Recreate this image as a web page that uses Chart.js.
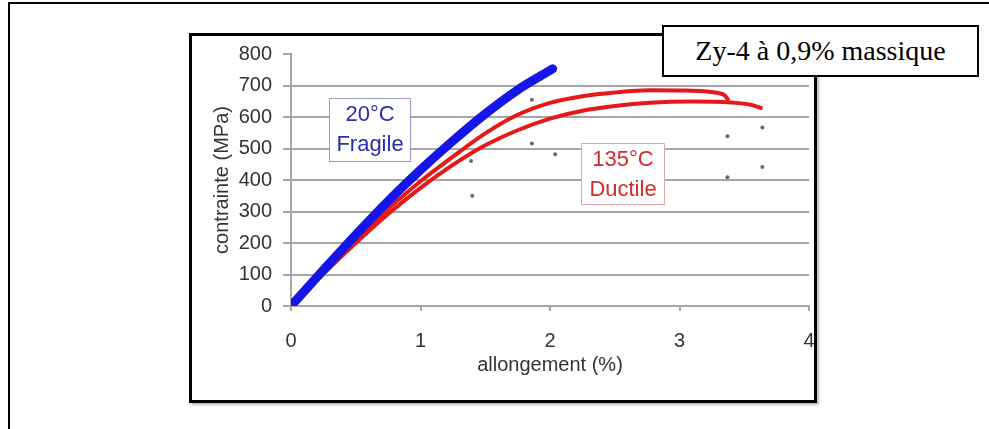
<!DOCTYPE html>
<html>
<head>
<meta charset="utf-8">
<script src="https://cdn.jsdelivr.net/npm/chart.js@4"></script>
<style>
  body { margin: 0; background: #fff; }
  #wrap { position: relative; width: 989px; height: 429px; overflow: hidden; }
  #chart { position: absolute; left: 0; top: 0; }
  .frame { position: absolute; border: 2px solid #000; }
  #outer { left: 8px; top: 2px; width: 1100px; height: 600px; }
  #inner { left: 189px; top: 33px; width: 622px; height: 364px; border-width: 3px; box-shadow: 2px 2px 2px #bbb; }
  #note { left: 662px; top: 25px; width: 313px; height: 48px; background: #fff;
          font-family: "Liberation Serif", "Times New Roman", serif; font-size: 28px;
          line-height: 48px; text-align: center; color: #000; }
  .tag { position: absolute; background: #fff; font-family: "Liberation Sans", Arial, sans-serif;
         font-size: 22px; line-height: 30px; text-align: center; }
  #tagBlue { left: 329px; top: 98px; width: 80px; height: 62px; border: 1px solid #9a9ac8; color: #2b2bb5; }
  #tagRed { left: 581px; top: 143px; width: 82px; height: 60px; border: 1px solid #e2a8a8; color: #d42a2a; }
</style>
</head>
<body>
<div id="wrap">
  <canvas id="chart" width="989" height="429"></canvas>
  <div id="outer" class="frame"></div>
  <div id="inner" class="frame"></div>
  <div id="tagBlue" class="tag">20°C<br>Fragile</div>
  <div id="tagRed" class="tag">135°C<br>Ductile</div>
  <div id="note" class="frame">Zy-4 à 0,9% massique</div>
</div>
<script>
// 20°C test (fragile)
const coldStrain = [0, 0.25, 0.5, 0.75, 1.0, 1.25, 1.5, 1.75, 1.9, 2.02];
const coldStress = [0, 114, 226, 333, 432, 524, 610, 686, 724, 753];

// 135°C tests (ductile), two curves
const hotStrainA = [0, 0.25, 0.5, 0.75, 1.0, 1.25, 1.5, 1.75, 2.0, 2.25, 2.5, 2.77, 3.05, 3.3, 3.35, 3.38];
const hotStressA = [0, 108, 212, 308, 396, 474, 548, 607, 645, 666, 678, 685, 684, 676, 668, 652];
const hotStrainB = [0, 0.25, 0.5, 0.75, 1.0, 1.25, 1.5, 1.75, 2.0, 2.25, 2.5, 2.77, 3.1, 3.4, 3.55, 3.64];
const hotStressB = [0, 102, 200, 292, 375, 448, 510, 558, 595, 620, 635, 645, 649, 646, 639, 627];

// isolated points
const dotStrain = [1.86, 1.86, 2.04, 1.39, 1.40, 3.37, 3.64, 3.37, 3.64];
const dotStress = [655, 516, 482, 460, 350, 539, 567, 409, 441];

const xTicks = [0, 1, 2, 3, 4];
const yTicks = [0, 100, 200, 300, 400, 500, 600, 700, 800];

function toPoints(xs, ys) {
  return xs.map((x, i) => ({ x: x, y: ys[i] }));
}

const gridGray = "#a6a6a6";
const textGray = "#333";
const font = { family: "'Liberation Sans', Arial, sans-serif", size: 20 };

document.addEventListener("DOMContentLoaded", function () {
  const ctx = document.getElementById("chart").getContext("2d");
  new Chart(ctx, {
    type: "scatter",
    data: {
      datasets: [
        {
          label: "20°C",
          data: toPoints(coldStrain, coldStress),
          showLine: true,
          borderColor: "#1515e8",
          borderWidth: 9,
          borderCapStyle: "round",
          cubicInterpolationMode: "monotone",
          pointRadius: 0,
        },
        {
          label: "135°C a",
          data: toPoints(hotStrainA, hotStressA),
          showLine: true,
          borderColor: "#e81818",
          borderWidth: 4,
          cubicInterpolationMode: "monotone",
          pointRadius: 0,
        },
        {
          label: "135°C b",
          data: toPoints(hotStrainB, hotStressB),
          showLine: true,
          borderColor: "#e81818",
          borderWidth: 4,
          cubicInterpolationMode: "monotone",
          pointRadius: 0,
        },
        {
          label: "points",
          data: toPoints(dotStrain, dotStress),
          showLine: false,
          pointRadius: 2,
          pointBackgroundColor: "#7a6262",
          pointBorderWidth: 0,
        },
      ],
    },
    options: {
      responsive: false,
      animation: false,
      layout: { padding: { left: 191, right: 180, top: 54, bottom: 52 } },
      plugins: {
        legend: { display: false },
        tooltip: { enabled: false },
      },
      scales: {
        x: {
          type: "linear",
          min: 0,
          max: 4,
          afterBuildTicks: (axis) => { axis.ticks = xTicks.map((v) => ({ value: v })); },
          afterFit: (axis) => { axis.height = 71; },
          ticks: { color: textGray, font: font, padding: 18, maxRotation: 0 },
          grid: { drawOnChartArea: false, tickLength: 5, color: gridGray, lineWidth: 2 },
          border: { color: gridGray, width: 2 },
          title: { display: true, text: "allongement (%)", color: textGray, font: font, padding: { top: 0, bottom: 0 } },
        },
        y: {
          min: 0,
          max: 800,
          afterBuildTicks: (axis) => { axis.ticks = yTicks.map((v) => ({ value: v })); },
          afterFit: (axis) => { axis.width = 100; },
          ticks: { color: textGray, font: font, padding: 11 },
          grid: {
            color: (c) => (c.tick && c.tick.value === 800 ? "rgba(0,0,0,0)" : gridGray),
            tickColor: gridGray,
            tickLength: 8,
            lineWidth: 2,
          },
          border: { color: gridGray, width: 2 },
          title: { display: true, text: "contrainte (MPa)", color: textGray, font: font, padding: { top: 19, bottom: 0 } },
        },
      },
    },
  });
});
</script>
</body>
</html>
